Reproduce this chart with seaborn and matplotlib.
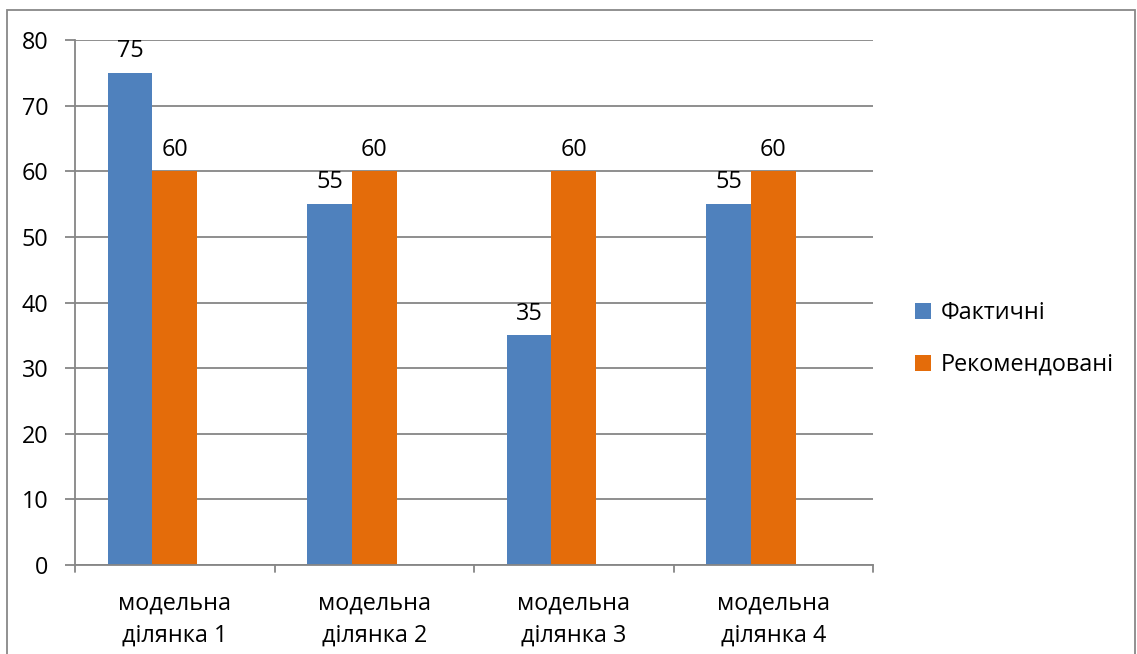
import matplotlib
matplotlib.use("Agg")
import matplotlib.pyplot as plt
import matplotlib.patches as mpatches
import seaborn as sns
import pandas as pd

categories = ["модельна\nділянка 1", "модельна\nділянка 2", "модельна\nділянка 3", "модельна\nділянка 4"]
actual = [75, 55, 35, 55]
recommended = [60, 60, 60, 60]
series_names = ["Фактичні", "Рекомендовані"]
colors = ["#4F81BD", "#E46C0A"]
y_ticks = [0, 10, 20, 30, 40, 50, 60, 70, 80]

sns.set_theme(style="white")
plt.rcParams["font.family"] = ["Open Sans", "DejaVu Sans"]
plt.rcParams["text.color"] = "#000000"
plt.rcParams["xtick.color"] = "#000000"
plt.rcParams["ytick.color"] = "#000000"

FS = 16.8

rows = []
for c, a, r in zip(categories, actual, recommended):
    rows.append({"cat": c, "series": series_names[0], "value": a})
    rows.append({"cat": c, "series": series_names[1], "value": r})
df = pd.DataFrame(rows)

fig = plt.figure(figsize=(11.37, 6.54), dpi=100)
ax = fig.add_axes([75/1137, 1-565/654, (873-75)/1137, (565-40)/654])

hue_order = series_names + ["_empty"]
palette = {series_names[0]: colors[0], series_names[1]: colors[1], "_empty": "#ffffff"}
sns.barplot(data=df, x="cat", y="value", hue="series", hue_order=hue_order,
            palette=palette, width=0.67, saturation=1, ax=ax, legend=False,
            errorbar=None, edgecolor="none", linewidth=0)

for cont in ax.containers:
    ax.bar_label(cont, padding=7, fontsize=FS, color="#000000")

ax.set_xlim(-0.5, len(categories) - 0.5)
ax.set_ylim(0, 80)
ax.set_yticks(y_ticks)
ax.set_yticklabels([str(t) for t in y_ticks], fontsize=FS)
ax.set_xticks(range(len(categories)))
ax.set_xticklabels(categories, fontsize=FS, linespacing=1.45)
ax.tick_params(axis="x", length=0, pad=19, labelcolor="#000000")
ax.tick_params(axis="y", length=7, width=1.3, color="#868686", pad=12, direction="out",
               left=True, labelcolor="#000000")
ax.set_xlabel("")
ax.set_ylabel("")
ax.grid(axis="y", color="#868686", linewidth=1.3)
ax.set_axisbelow(True)
for s in ["top", "right"]:
    ax.spines[s].set_visible(False)
for s in ["left", "bottom"]:
    ax.spines[s].set_color("#868686")
    ax.spines[s].set_linewidth(1.3)

# category boundary ticks on x axis
for b in [-0.5, 0.5, 1.5, 2.5, 3.5]:
    ax.plot([b, b], [0, -1.1], color="#868686", linewidth=1.3, clip_on=False,
            transform=ax.transData)

handles = [mpatches.Patch(facecolor=colors[i], edgecolor="none", label=series_names[i]) for i in range(2)]
fig.legend(handles=handles, loc="center left", bbox_to_anchor=(915/1137, 1-339/654),
           frameon=False, fontsize=FS, handlelength=0.7, handleheight=0.7,
           labelspacing=1.2, handletextpad=0.4, borderpad=0, borderaxespad=0)

border = mpatches.Rectangle((7/1137, -0.05), (1135-7)/1137, 1.05 - 10/654,
                            transform=fig.transFigure, fill=False,
                            edgecolor="#888888", linewidth=1.3)
fig.add_artist(border)

fig.savefig("out.png", dpi=100, facecolor="white")
